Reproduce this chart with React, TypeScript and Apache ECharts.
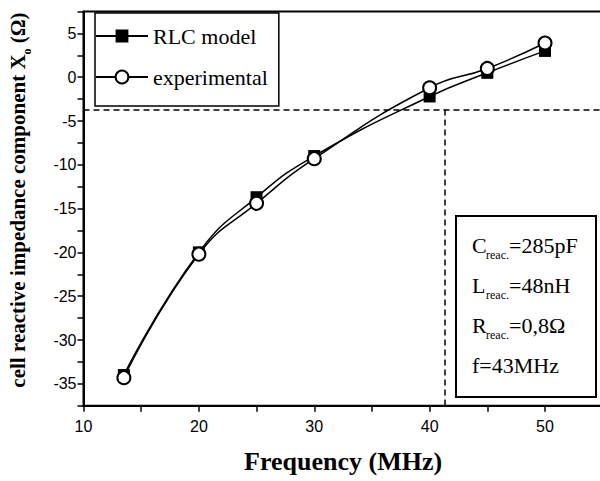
import React, { useEffect, useRef } from "react";
import * as echarts from "echarts";

const frequency = [13.5, 20, 25, 30, 40, 45, 50];
const rlcModel = [-34.0, -20.0, -13.7, -9.0, -2.2, 0.5, 3.0];
const experimental = [-34.3, -20.2, -14.4, -9.3, -1.2, 1.0, 3.9];
const seriesNames = ["RLC model", "experimental"];
const xTickLabels = [10, 20, 30, 40, 50];
const yTickLabels = [5, 0, -5, -10, -15, -20, -25, -30, -35];
const dashY = -3.7;
const dashX = 41.35;
const boxLines = [
  { main: "C", sub: "reac.", rest: "=285pF" },
  { main: "L", sub: "reac.", rest: "=48nH" },
  { main: "R", sub: "reac.", rest: "=0,8Ω" },
  { main: "f=43MHz", sub: "", rest: "" },
];

const SERIF = "'Liberation Serif', 'Times New Roman', serif";
const SANS = "'Liberation Sans', Arial, sans-serif";

export default function App() {
  const ref = useRef<HTMLDivElement>(null);
  useEffect(() => {
    if (!ref.current) return;
    const chart = echarts.init(ref.current, null, { renderer: "svg" });
    const X_MIN = 10, X_MAX = 55, Y_MIN = -37.5, Y_MAX = 7.5;

    const boxGraphics: any[] = [
      {
        type: "rect",
        shape: { x: 456, y: 216, width: 140, height: 181 },
        style: { fill: "#fff", stroke: "#000", lineWidth: 2 },
        z: 10,
      },
    ];
    boxLines.forEach((ln, i) => {
      const cy = 245 + i * 40;
      boxGraphics.push({
        type: "text",
        x: 472,
        y: cy,
        z: 11,
        style: { text: ln.main, font: `22px ${SERIF}`, fill: "#000", textVerticalAlign: "middle", textAlign: "left" },
      });
      if (ln.sub) {
        boxGraphics.push({
          type: "text",
          x: 486,
          y: cy + 10,
          z: 11,
          style: { text: ln.sub, font: `12px ${SERIF}`, fill: "#000", textVerticalAlign: "middle", textAlign: "left" },
        });
        boxGraphics.push({
          type: "text",
          x: 509,
          y: cy,
          z: 11,
          style: { text: ln.rest, font: `22px ${SERIF}`, fill: "#000", textVerticalAlign: "middle", textAlign: "left" },
        });
      }
    });

    chart.setOption({
      animation: false,
      backgroundColor: "#fff",
      grid: {
        left: 83.5,
        top: 11.5,
        right: 7.3,
        bottom: 75.3,
        show: true,
        borderColor: "#000",
        borderWidth: 2,
        outerBoundsMode: "none",
      },
      legend: {
        data: seriesNames,
        orient: "vertical",
        left: 95,
        top: 13,
        padding: [12, 11, 18, 0],
        itemGap: 19,
        itemWidth: 52,
        itemHeight: 16,
        borderColor: "#000",
        borderWidth: 1.5,
        backgroundColor: "#fff",
        textStyle: { fontFamily: SERIF, fontSize: 22, color: "#000" },
      },
      xAxis: {
        type: "value",
        min: X_MIN,
        max: X_MAX,
        interval: 5,
        name: "Frequency (MHz)",
        nameLocation: "middle",
        nameGap: 43,
        nameTextStyle: { fontFamily: SERIF, fontWeight: "bold", fontSize: 26, color: "#000" },
        axisLine: { show: true, onZero: false, lineStyle: { color: "#000", width: 2 } },
        axisTick: { show: true, inside: false, length: 6, lineStyle: { color: "#000", width: 1.5 } },
        splitLine: { show: false },
        axisLabel: {
          margin: 13,
          fontFamily: SANS,
          fontSize: 16,
          color: "#000",
          formatter: (v: number) => (xTickLabels.includes(v) ? String(v) : ""),
        },
      },
      yAxis: {
        type: "value",
        min: Y_MIN,
        max: Y_MAX,
        interval: 2.5,
        axisLine: { show: true, onZero: false, lineStyle: { color: "#000", width: 2 } },
        axisTick: { show: true, inside: false, length: 6, lineStyle: { color: "#000", width: 1.5 } },
        splitLine: { show: false },
        axisLabel: {
          margin: 7,
          fontFamily: SANS,
          fontSize: 16,
          color: "#000",
          formatter: (v: number) => (yTickLabels.includes(v) ? String(v) : ""),
        },
      },
      graphic: [
        {
          type: "text",
          x: 17.5,
          y: 200,
          rotation: Math.PI / 2,
          style: {
            text: "{m|cell reactive impedance component X}{s|o}{m| (Ω)}",
            fill: "#000",
            textAlign: "center",
            textVerticalAlign: "middle",
            rich: {
              m: { fontFamily: SERIF, fontWeight: "bold", fontSize: 21, lineHeight: 30, fill: "#000" },
              s: { fontFamily: SERIF, fontWeight: "bold", fontSize: 12, lineHeight: 12, verticalAlign: "bottom", fill: "#000" },
            },
          },
        },
        ...boxGraphics,
      ],
      series: [
        {
          name: seriesNames[0],
          type: "line",
          smooth: true,
          data: frequency.map((f, i) => [f, rlcModel[i]]),
          symbol: "rect",
          symbolSize: 12,
          itemStyle: { color: "#000" },
          lineStyle: { color: "#000", width: 1.5 },
          markLine: {
            silent: true,
            symbol: "none",
            label: { show: false },
            lineStyle: { color: "#000", width: 1.5, type: [6, 4] },
            data: [
              [{ coord: [X_MIN, dashY] }, { coord: [X_MAX, dashY] }],
              [{ coord: [dashX, dashY] }, { coord: [dashX, Y_MIN] }],
            ],
          },
          z: 2,
        },
        {
          name: seriesNames[1],
          type: "line",
          smooth: true,
          data: frequency.map((f, i) => [f, experimental[i]]),
          symbol: "circle",
          symbolSize: 13,
          itemStyle: { color: "#fff", borderColor: "#000", borderWidth: 2 },
          lineStyle: { color: "#000", width: 1.5 },
          z: 3,
        },
      ],
    });
    return () => chart.dispose();
  }, []);

  return (
    <div style={{ position: "fixed", left: 0, top: 0, width: 600, height: 481, overflow: "hidden", background: "#fff" }}>
      <div ref={ref} style={{ width: 610, height: 481 }} />
    </div>
  );
}
